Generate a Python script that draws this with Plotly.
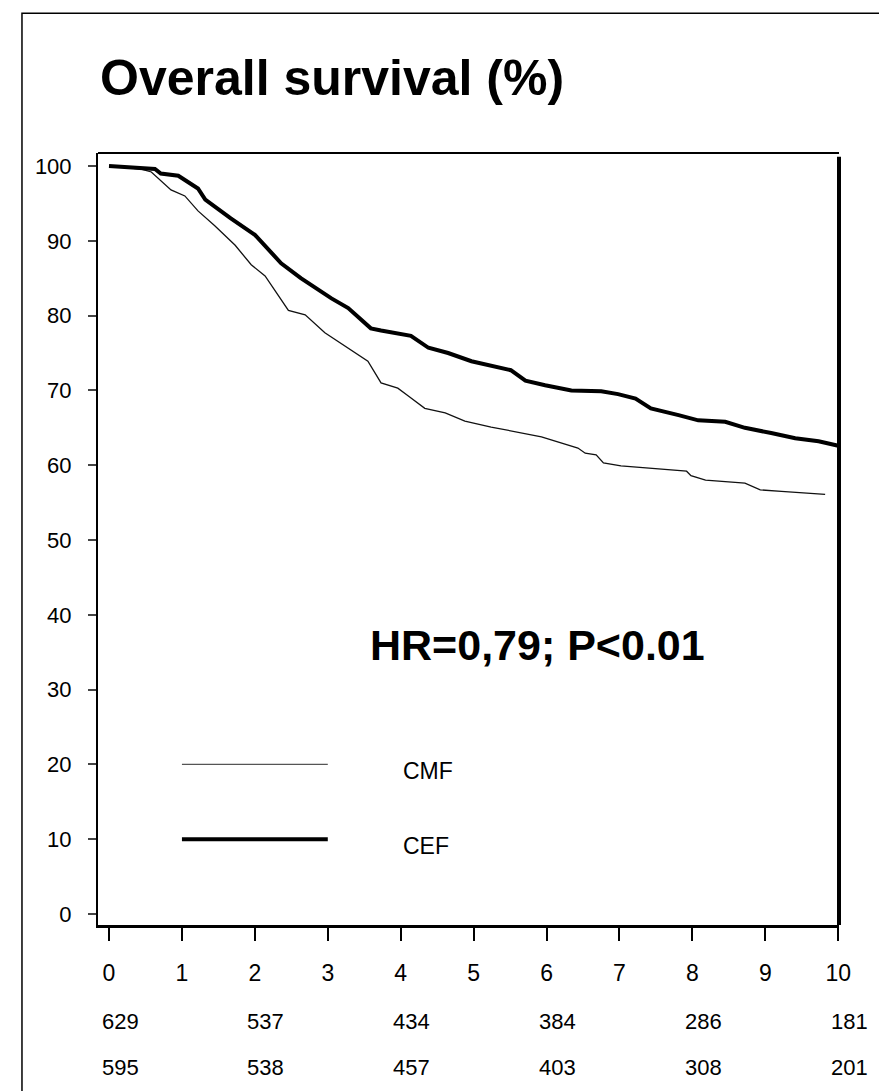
import plotly.graph_objects as go

# ---- data ----
cef_t = [0, 0.63, 0.71, 0.95, 1.22, 1.32, 1.67, 2.0, 2.36, 2.63, 3.05, 3.28, 3.59, 3.73, 4.14,
         4.38, 4.65, 4.97, 5.51, 5.71, 5.98, 6.34, 6.75, 6.98, 7.22, 7.43, 7.81, 8.08, 8.45,
         8.72, 9.08, 9.41, 9.73, 10.0]
cef_s = [100, 99.6, 99.0, 98.7, 97.0, 95.5, 93.0, 90.8, 87.0, 85.0, 82.3, 81.0, 78.3, 78.0, 77.3,
         75.7, 75.0, 73.9, 72.7, 71.3, 70.7, 70.0, 69.9, 69.5, 68.9, 67.6, 66.7, 66.0, 65.8,
         65.0, 64.3, 63.6, 63.2, 62.6]

cmf_t = [0, 0.44, 0.58, 0.67, 0.85, 1.04, 1.22, 1.45, 1.73, 1.95, 2.14, 2.46, 2.69, 2.96, 3.24,
         3.55, 3.73, 3.96, 4.10, 4.33, 4.61, 4.88, 5.24, 5.93, 6.43, 6.53, 6.68, 6.78, 7.02,
         7.49, 7.92, 7.98, 8.18, 8.72, 8.93, 9.22, 9.82]
cmf_s = [100, 99.6, 99.2, 98.4, 96.8, 96.0, 94.0, 92.0, 89.4, 86.8, 85.3, 80.7, 80.1, 77.7, 75.9,
         73.9, 71.0, 70.3, 69.3, 67.6, 67.0, 65.9, 65.1, 63.8, 62.3, 61.6, 61.4, 60.3, 59.9,
         59.5, 59.2, 58.6, 58.0, 57.6, 56.7, 56.5, 56.1]

x_ticks = list(range(0, 11))
y_ticks = list(range(0, 101, 10))
risk_times = [0, 2, 4, 6, 8, 10]
risk_row1 = [629, 537, 434, 384, 286, 181]
risk_row2 = [595, 538, 457, 403, 308, 201]

title_text = "Overall survival (%)"
hr_text = "HR=0,79; P<0.01"
legend_names = ["CMF", "CEF"]
legend_y = [20, 10]
legend_x = [1, 3]
legend_label_x = 4.0

FONT = "Liberation Sans, Arial, Helvetica, sans-serif"

fig = go.Figure()
fig.add_trace(go.Scatter(x=cmf_t, y=cmf_s, mode="lines", name="CMF",
                         line=dict(color="#111", width=1.3), showlegend=False))
fig.add_trace(go.Scatter(x=cef_t, y=cef_s, mode="lines", name="CEF",
                         line=dict(color="#000", width=4), showlegend=False))

# legend samples
fig.add_trace(go.Scatter(x=legend_x, y=[legend_y[0]] * 2, mode="lines",
                         line=dict(color="#555", width=1.2), showlegend=False, hoverinfo="skip"))
fig.add_trace(go.Scatter(x=legend_x, y=[legend_y[1]] * 2, mode="lines",
                         line=dict(color="#000", width=4), showlegend=False, hoverinfo="skip"))

annotations = []
for name, yv in zip(legend_names, legend_y):
    annotations.append(dict(x=legend_label_x, y=yv - 0.9, xref="x", yref="y", text=name,
                            showarrow=False, xanchor="left", yanchor="middle",
                            font=dict(family=FONT, size=23, color="#000")))

annotations.append(dict(x=5.88, y=36.0, xref="x", yref="y", text="<b>" + hr_text + "</b>",
                        showarrow=False, xanchor="center", yanchor="middle",
                        font=dict(family=FONT, size=43, color="#000")))

annotations.append(dict(x=0.0, y=1.097, xref="paper", yref="paper", text="<b>" + title_text + "</b>",
                        showarrow=False, xanchor="left", yanchor="middle",
                        font=dict(family=FONT, size=50, color="#000")))

for t, a, b in zip(risk_times, risk_row1, risk_row2):
    annotations.append(dict(x=t, y=-0.1244, xref="x", yref="paper", text=str(a), showarrow=False,
                            xanchor="center", yanchor="middle", xshift=11,
                            font=dict(family=FONT, size=22, color="#000")))
    annotations.append(dict(x=t, y=-0.1852, xref="x", yref="paper", text=str(b), showarrow=False,
                            xanchor="center", yanchor="middle", xshift=11,
                            font=dict(family=FONT, size=22, color="#000")))

shapes = [
    dict(type="line", xref="paper", yref="paper", x0=0, x1=1.0, y0=1, y1=1,
         line=dict(color="#000", width=2)),
    dict(type="line", xref="paper", yref="paper", x0=1.0, x1=1.0, y0=0, y1=0.995,
         line=dict(color="#000", width=4)),
    dict(type="rect", xref="paper", yref="paper", x0=-0.1026, x1=1.0715, y0=-0.25, y1=1.181,
         line=dict(color="#000", width=1.5), layer="below"),
]

fig.update_layout(
    width=887, height=1091,
    margin=dict(l=90, r=56, t=145, b=174),
    paper_bgcolor="white", plot_bgcolor="white",
    font=dict(family=FONT, size=22, color="#000"),
    annotations=annotations, shapes=shapes,
    xaxis=dict(range=[-0.151, 10.01], tickvals=x_ticks, ticks="outside", ticklen=13, tickwidth=2,
               tickcolor="#000", showline=True, linecolor="#000", linewidth=2.5,
               showgrid=False, zeroline=False, ticklabelstandoff=13,
               tickfont=dict(family=FONT, size=23, color="#000")),
    yaxis=dict(range=[-1.47, 101.74], tickvals=y_ticks, ticks="outside", ticklen=8, tickwidth=1.5,
               tickcolor="#444", showline=True, linecolor="#000", linewidth=2,
               showgrid=False, zeroline=False, ticklabelstandoff=12,
               tickfont=dict(family=FONT, size=22, color="#000")),
)

fig.write_html("out.html")
